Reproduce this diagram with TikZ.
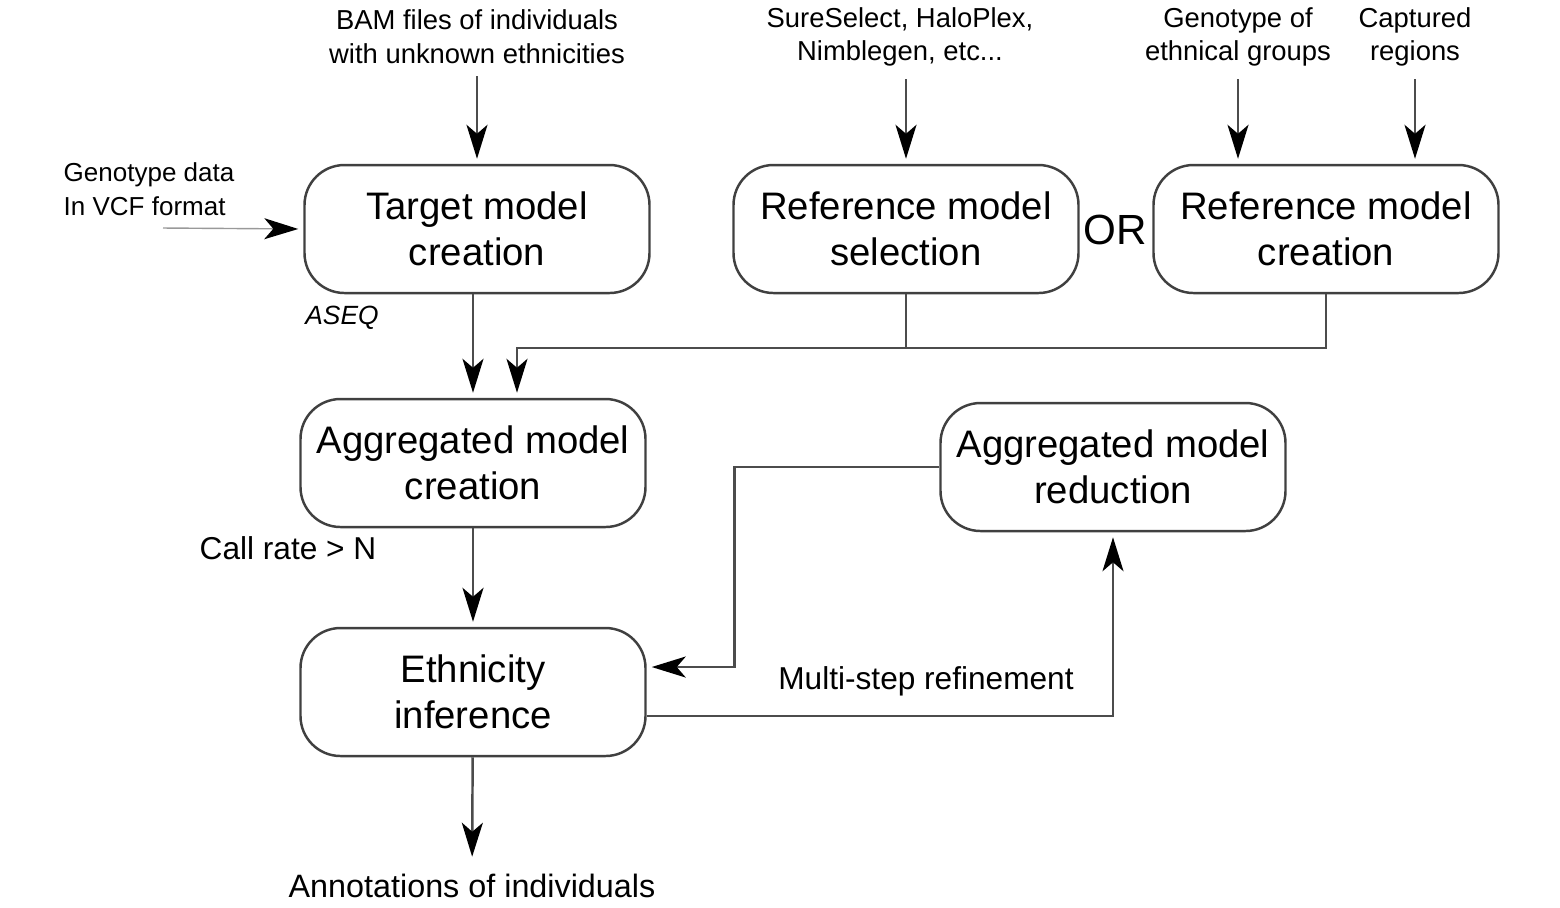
\documentclass[tikz,border=0pt]{standalone}
\usepackage{fontspec}
\setmainfont{Liberation Sans}
\usetikzlibrary{arrows.meta,positioning}

\begin{document}
\begin{tikzpicture}[x=0.1mm,y=-0.1mm,
  box/.style={draw=black!75, line width=0.7pt, rounded corners=4mm, minimum width=34.5mm, minimum height=12.8mm, align=center, font=\fontsize{10.9}{13}\selectfont},
  lbl/.style={align=center, font=\fontsize{7.8}{9.6}\selectfont},
  note/.style={font=\fontsize{9}{11}\selectfont},
  flow/.style={draw=black!70, line width=0.7pt, shorten >=0.5mm, -{Stealth[length=3.4mm,width=2.1mm,inset=0.9mm,color=black]}},
  wire/.style={draw=black!70, line width=0.7pt}]
\useasboundingbox (0,0) rectangle (1560,907);
% boxes
\node [box] (target) at (477,229) {Target model\\creation};
\node [box] (refsel) at (906,229) {Reference model\\selection};
\node [box] (refcr) at (1326,229) {Reference model\\creation};
\node [box] (aggc) at (473,463) {Aggregated model\\creation};
\node [box] (aggr) at (1113,467) {Aggregated model\\reduction};
\node [box] (eth) at (473,692) {Ethnicity\\inference};
% texts
\node [lbl] (bam) at (477,37) {BAM files of individuals\\with unknown ethnicities};
\node [lbl] (sure) at (900,37) {SureSelect, HaloPlex,\\Nimblegen, etc...};
\node [lbl] (geno) at (1238,37) {Genotype of\\ethnical groups};
\node [lbl] (capt) at (1415,37) {Captured\\regions};
\node [lbl, align=left, anchor=north west, inner sep=0pt, font=\fontsize{7.4}{9.6}\selectfont] (vcf) at (63,162) {Genotype data\\In VCF format};
\node [lbl, font=\fontsize{7.5}{9}\itshape] (aseq) at (342,318) {ASEQ};
\node [font=\fontsize{12}{14}\selectfont] (or) at (1115,230) {OR};
\node [note] (call) at (288,548) {Call rate > N};
\node [note] (multi) at (926,681) {Multi-step refinement};
\node [note, font=\fontsize{9.2}{11}\selectfont] (annot) at (472,886) {Annotations of individuals};
\coordinate (vcfin) at (163,228);
\coordinate (join) at (517,348);
% arrows
\draw [flow] (bam.south) -- (target.north);
\draw [flow] (refsel.north |- sure.south) -- (refsel.north);
\draw [flow] (geno.south) -- (geno.south |- refcr.north);
\draw [flow] (capt.south) -- (capt.south |- refcr.north);
\draw [flow, draw=black!40, line width=0.4pt] (vcfin) -- (target.west);
\draw [flow] (aggc.north |- target.south) -- (aggc.north);
\draw [flow] (refsel.south) |- (join) -- (join |- aggc.north);
\draw [wire] (refcr.south) |- (refsel.south |- join);
\draw [flow] (aggc) -- (eth);
\draw [flow] (aggr.west) -- ++(-205,0) |- ([yshift=2.5mm]eth.east);
\draw [flow] ([yshift=-2.4mm]eth.east) -| (aggr.south);
\draw [flow] (eth) -- (annot);
\end{tikzpicture}
\end{document}
